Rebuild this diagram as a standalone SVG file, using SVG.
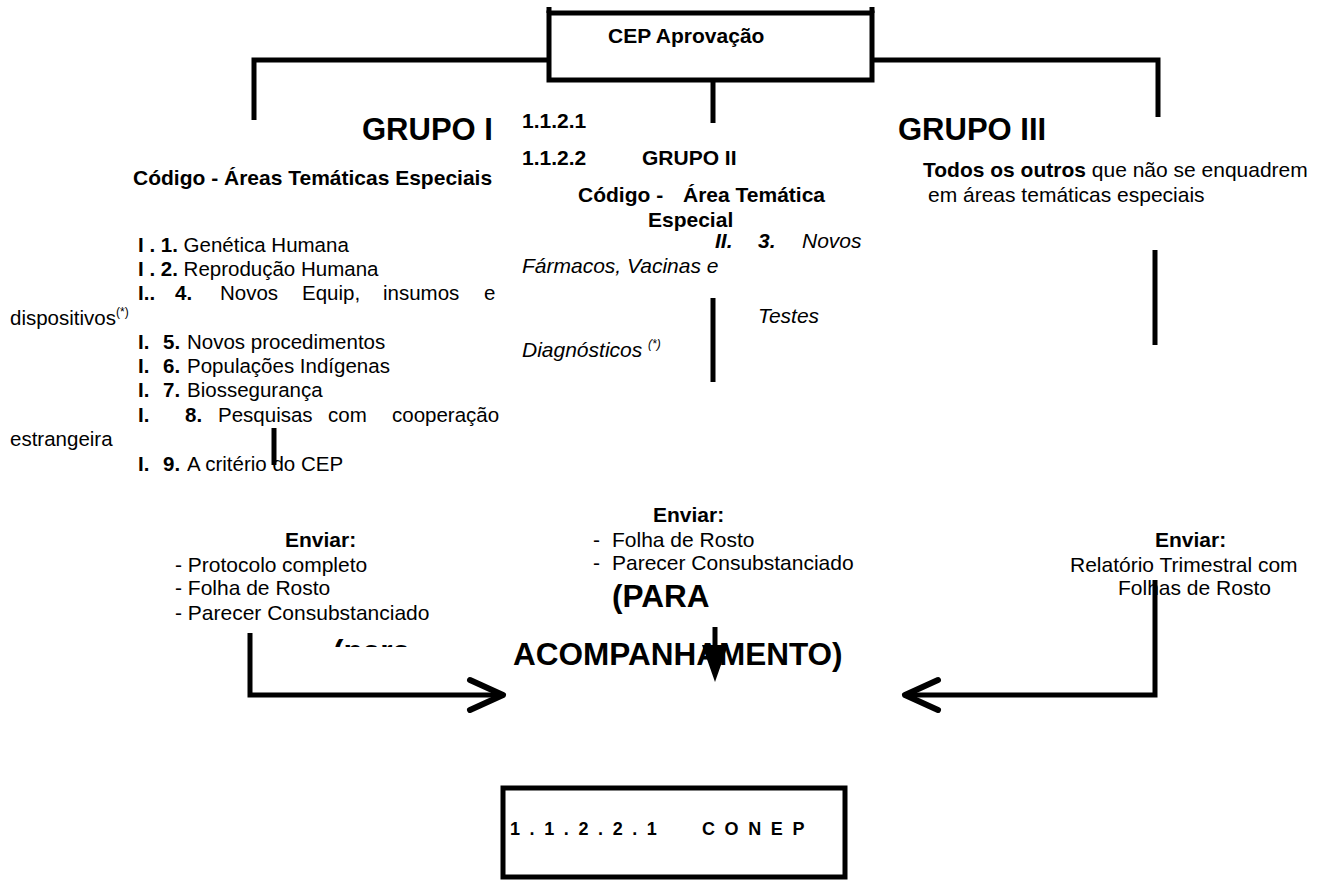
<svg xmlns="http://www.w3.org/2000/svg" width="1331" height="880" viewBox="0 0 1331 880">
<style>
text{font-family:"Liberation Sans",Arial,sans-serif;font-size:21px;fill:#000}
.b{font-weight:bold}
.i{font-style:italic}
.li{font-size:20.5px}
.h{font-size:31px;font-weight:bold}
.big{font-size:31.5px;font-weight:bold}
.sup{font-size:12px}
.sp{font-size:18px;font-weight:bold;letter-spacing:9.6px}
.box{fill:#fff;stroke:#000;stroke-width:5}
.ln{stroke:#000;stroke-width:5;fill:none}
.arr{stroke:#000;stroke-width:6;fill:none;stroke-linecap:round;stroke-linejoin:round}
</style>
<defs>
<clipPath id="clipPara"><rect x="300" y="600" width="200" height="47"/></clipPath>
</defs>
<rect width="1331" height="880" fill="#fff"/>

<g id="cep">
<rect class="box" x="549" y="13" width="323" height="67"/>
<line class="ln" x1="549" y1="7" x2="549" y2="13"/>
<line class="ln" x1="872" y1="7" x2="872" y2="13"/>
<text class="b" x="608" y="43">CEP Aprovação</text>
</g>

<g id="grupo1">
<text class="h" x="362" y="140">GRUPO I</text>
<text class="b" x="133" y="185">Código - Áreas Temáticas Especiais</text>
<text class="li" x="138" y="252"><tspan class="b">I . 1.</tspan> Genética Humana</text>
<text class="li" x="138" y="276"><tspan class="b">I . 2.</tspan> Reprodução Humana</text>
<text class="li b" x="138" y="300">I..</text>
<text class="li b" x="175" y="300">4.</text>
<text class="li" x="220" y="300">Novos</text>
<text class="li" x="302" y="300">Equip,</text>
<text class="li" x="383" y="300">insumos</text>
<text class="li" x="484" y="300">e</text>
<text class="li" x="10" y="325">dispositivos<tspan class="sup" dy="-9">(*)</tspan></text>
<text class="li" x="138" y="349"><tspan class="b">I.</tspan><tspan class="b" x="163">5.</tspan><tspan x="187">Novos procedimentos</tspan></text>
<text class="li" x="138" y="373"><tspan class="b">I.</tspan><tspan class="b" x="163">6.</tspan><tspan x="187">Populações Indígenas</tspan></text>
<text class="li" x="138" y="397"><tspan class="b">I.</tspan><tspan class="b" x="163">7.</tspan><tspan x="187">Biossegurança</tspan></text>
<text class="li b" x="138" y="422">I.</text>
<text class="li b" x="185" y="422">8.</text>
<text class="li" x="218" y="422">Pesquisas</text>
<text class="li" x="328" y="422">com</text>
<text class="li" x="392" y="422">cooperação</text>
<text class="li" x="10" y="446">estrangeira</text>
<text class="li" x="138" y="471"><tspan class="b">I.</tspan><tspan class="b" x="163">9.</tspan><tspan x="187">A critério do CEP</tspan></text>
</g>

<g id="grupo2">
<text class="b" x="522" y="128">1.1.2.1</text>
<text class="b" x="522" y="165">1.1.2.2</text>
<text class="b" x="642" y="165">GRUPO II</text>
<text class="b" x="578" y="202">Código -</text>
<text class="b" x="683" y="202">Área Temática</text>
<text class="b" x="648" y="227">Especial</text>
<text class="b i" x="715" y="248">II.</text>
<text class="b i" x="758" y="248">3.</text>
<text class="i" x="802" y="248">Novos</text>
<text class="i" x="522" y="273">Fármacos, Vacinas e</text>
<text class="i" x="758" y="323">Testes</text>
<text class="i" x="522" y="357">Diagnósticos <tspan class="sup" dy="-9">(*)</tspan></text>
</g>

<g id="grupo3">
<text class="h" x="898" y="140">GRUPO III</text>
<text x="923" y="177"><tspan class="b">Todos os outros</tspan> que não se enquadrem</text>
<text x="928" y="202">em áreas temáticas especiais</text>
</g>

<g id="enviar1">
<text class="b" x="285" y="547">Enviar:</text>
<text x="175" y="572">- Protocolo<tspan x="282">completo</tspan></text>
<text x="175" y="595">- Folha de Rosto</text>
<text x="175" y="620">- Parecer Consubstanciado</text>
<text class="big" x="333" y="662" clip-path="url(#clipPara)">(para</text>
</g>

<g id="enviar2">
<text class="b" x="653" y="522">Enviar:</text>
<text x="593" y="547">-</text>
<text x="612" y="547">Folha de Rosto</text>
<text x="593" y="570">-</text>
<text x="612" y="570">Parecer Consubstanciado</text>
<text class="big" x="612" y="607">(PARA</text>
<text class="big" x="513" y="665">ACOMPANHAMENTO)</text>
</g>

<g id="enviar3">
<text class="b" x="1155" y="547">Enviar:</text>
<text x="1070" y="572">Relatório Trimestral com</text>
<text x="1118" y="595">Folhas de Rosto</text>
</g>

<g id="conep">
<rect class="box" x="503" y="788" width="342" height="89"/>
<text class="sp" x="510" y="835">1.1.2.2.1</text>
<text class="sp" x="702" y="835">CONEP</text>
</g>

<g id="connectors">
<polyline class="ln" points="549,60 254,60 254,120"/>
<line class="ln" x1="713" y1="82" x2="713" y2="123"/>
<polyline class="ln" points="872,60 1158,60 1158,117"/>
<line class="ln" x1="274" y1="428" x2="274" y2="465"/>
<line class="ln" x1="713" y1="298" x2="713" y2="382"/>
<line class="ln" x1="1155" y1="250" x2="1155" y2="345"/>
<polyline class="ln" points="250,633 250,695 500,695"/>
<polyline class="arr" points="470,680 503,695 470,710"/>
<polyline class="ln" points="1155,580 1155,695 908,695"/>
<polyline class="arr" points="938,680 905,695 938,710"/>
<line class="ln" x1="715" y1="627" x2="715" y2="648"/>
<polygon points="702,645 728,645 715,682" fill="#000"/>
</g>
</svg>
